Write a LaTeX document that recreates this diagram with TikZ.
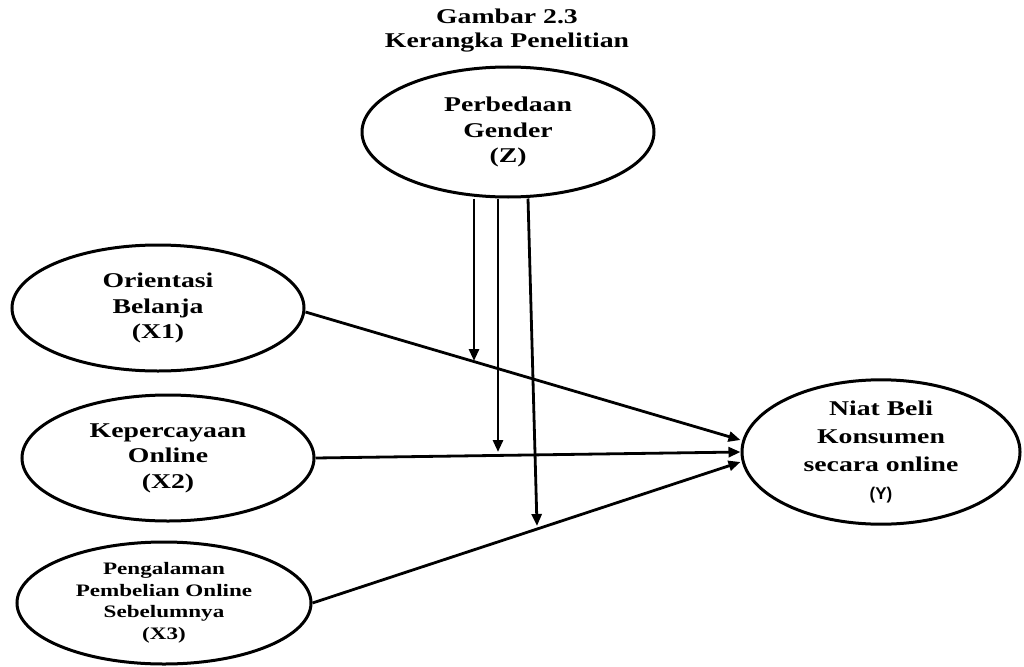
\documentclass[tikz,border=0pt]{standalone}
\usepackage{fontspec}
\setmainfont{Liberation Serif}[FakeStretch=1.32]
\newfontfamily\ysans{Liberation Sans}
\usetikzlibrary{arrows.meta,shapes.geometric}
\begin{document}
\begin{tikzpicture}[x=1pt,y=-1pt,
 var/.style={ellipse,draw,line width=3pt,inner sep=0pt,align=center,font=\fontsize{21}{25.5}\selectfont\bfseries},
 arr/.style={-{Triangle[length=12pt,width=10pt]},line width=2.8pt}]
\useasboundingbox (0,0) rectangle (1024,666);
\node[font=\fontsize{21}{24}\selectfont\bfseries,align=center] (title) at (507,31) {Gambar 2.3\\Kerangka Penelitian};
\node[var,minimum width=292pt,minimum height=130pt] (Z) at (508,132) {Perbedaan\\Gender\\(Z)};
\node[var,minimum width=292pt,minimum height=126pt] (X1) at (158,308) {Orientasi\\Belanja\\(X1)};
\node[var,minimum width=292pt,minimum height=126pt] (X2) at (168,458) {Kepercayaan\\Online\\(X2)};
\node[var,minimum width=294pt,minimum height=122pt,font=\fontsize{17.5}{21.5}\selectfont\bfseries] (X3) at (164,603) {Pengalaman\\Pembelian Online\\Sebelumnya\\(X3)};
\node[var,minimum width=278pt,minimum height=126pt,font=\fontsize{21}{28}\selectfont\bfseries] (Y) at (881,452) {Niat Beli\\Konsumen\\secara online\\{\ysans\bfseries\fontsize{17}{18}\selectfont (Y)}};
\coordinate (m1) at (474,361);
\coordinate (m2) at (498,452);
\coordinate (m3) at (537,526);
\draw[arr] ([yshift=-4pt]X1.east) -- ([yshift=12pt]Y.west);
\draw[arr] (X2.east) -- (Y.west);
\draw[arr] (X3.east) -- ([yshift=-10pt]Y.west);
\draw[arr] ([xshift=-34pt]Z.south) -- (m1);
\draw[arr] ([xshift=-10pt]Z.south) -- (m2);
\draw[arr] ([xshift=20pt]Z.south) -- (m3);
\end{tikzpicture}
\end{document}
